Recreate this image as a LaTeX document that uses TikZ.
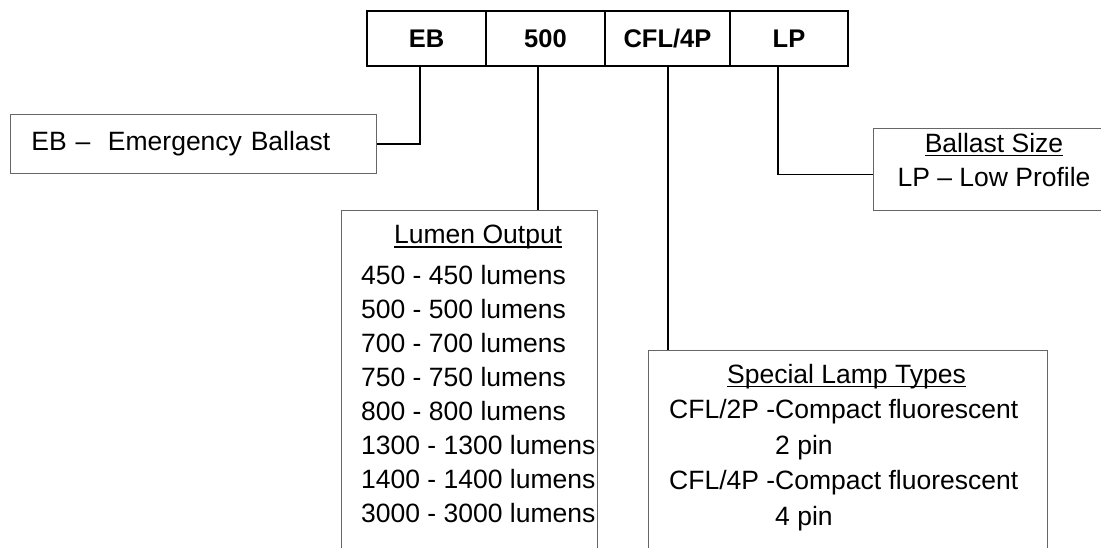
\documentclass[tikz,border=0pt]{standalone}
\usepackage{fontspec}
\setmainfont{Liberation Sans}
\newcommand\hdr[1]{\setbox0\hbox{#1}\rlap{\rule[-4pt]{\wd0}{1.3pt}}\box0}

\begin{document}
\begin{tikzpicture}[x=1pt, y=-1pt,
    codebox/.style={draw, line width=1.5pt, minimum height=55pt, inner sep=0pt, font=\fontsize{25.5}{30}\selectfont\bfseries},
    descbox/.style={draw=black!60, line width=0.8pt, inner sep=0pt, anchor=north west},
    desctext/.style={inner sep=0pt, anchor=north west, align=left, font=\fontsize{26.5}{34}\selectfont},
    link/.style={line width=1.5pt}]
    \useasboundingbox (0,0) rectangle (1101,547);
    \node[codebox, minimum width=119pt] (eb) at (426.5,38.5) {EB};
    \node[codebox, minimum width=119pt] (lumcode) at (545.5,38.5) {500};
    \node[codebox, minimum width=125pt] (lampcode) at (667.5,38.5) {CFL/4P};
    \node[codebox, minimum width=118pt] (lp) at (789,38.5) {LP};

    \node[descbox, minimum width=366pt, minimum height=59pt, inner xsep=21pt, text width=324pt, align=left, font=\fontsize{26.5}{34}\selectfont] (ebdesc) at (10,114) {EB –\ \ Emergency Ballast};
    \node[descbox, minimum width=256pt, minimum height=360pt] (lumen) at (341,210) {};
    \node[desctext] (lumentext) at (361,225) {\hspace*{33pt}\hdr{Lumen Output}\\[7pt] 450 - 450 lumens\\ 500 - 500 lumens\\ 700 - 700 lumens\\ 750 - 750 lumens\\ 800 - 800 lumens\\ 1300 - 1300 lumens\\ 1400 - 1400 lumens\\ 3000 - 3000 lumens};
    \node[descbox, minimum width=399pt, minimum height=220pt] (lamp) at (648,350) {};
    \node[desctext, font=\fontsize{26.5}{35.5}\selectfont] (lamptext) at (669,364) {\hspace*{58pt}\hdr{Special Lamp Types}\\ CFL/2P -Compact fluorescent\\ \phantom{CFL/2P -}2 pin\\ CFL/4P -Compact fluorescent\\ \phantom{CFL/4P -}4 pin};
    \node[descbox, minimum width=242pt, minimum height=82pt] (ballast) at (873,128) {};
    \node[desctext, anchor=north, align=center] (ballasttext) at (994,132.7) {\hdr{Ballast Size}\\ LP – Low Profile};

    \coordinate (ebdrop) at ([xshift=-6.5pt]eb.south);
    \coordinate (lumdrop) at ([xshift=-7.5pt]lumcode.south);
    \coordinate (lampdrop) at ([xshift=0.5pt]lampcode.south);
    \coordinate (lpdrop) at ([xshift=-11pt]lp.south);
    \draw[link] (ebdrop) |- (ebdesc.east);
    \draw[link] (lumdrop) -- (lumdrop |- lumen.north);
    \draw[link] (lampdrop) -- (lampdrop |- lamp.north);
    \draw[link] (lpdrop) |- ([yshift=-5pt]ballast.west);
\end{tikzpicture}
\end{document}
